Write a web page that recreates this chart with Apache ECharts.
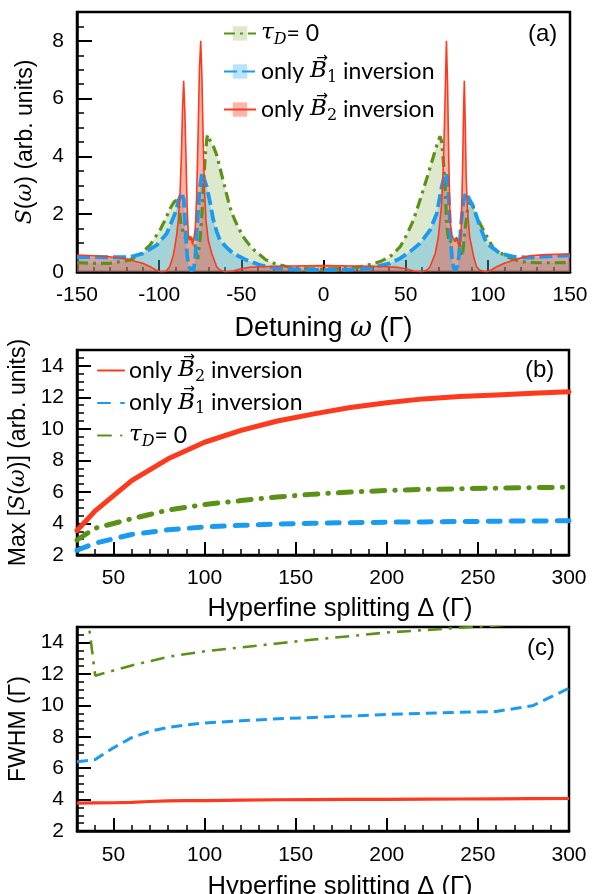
<!DOCTYPE html>
<html><head><meta charset="utf-8">
<script src="https://cdn.jsdelivr.net/npm/echarts@6/dist/echarts.min.js"></script>
<style>html,body{margin:0;padding:0;background:#fff}#c{width:592px;height:894px}</style>
</head><body><div id="c"></div>
<script>
// ---------- Panel (a): spectra S(omega) ----------
const wTau = [-150,-140,-130,-118,-112,-105.6,-99.5,-96,-93.4,-91,-89.5,-88,-86.5,-84,-81,-78.5,-76.5,-75,-74,-73,-72,-71,-70.5,-69.5,-67,-65,-63,-61,-59,-57,-54,-51,-48,-45,-42,-38.6,-35,-30,-22,-10,0,10,22,30,34.4,40.5,46.6,50.6,54.7,58.7,62.8,66.8,69,70.9,72,73,74,75,76.5,78,80,82,84.5,86,87.5,89,90.5,93.2,97.3,103.4,111.5,119.6,130,140,150];
const sTau = [0.32,0.3,0.3,0.41,0.59,0.93,1.45,1.85,2.19,2.42,2.48,2.25,1.6,1.15,1.2,1.0,0.45,1.2,2.0,3.0,4.0,4.6,4.75,4.6,4.35,4.05,3.6,3.15,2.7,2.25,1.8,1.45,1.15,0.93,0.75,0.59,0.42,0.3,0.18,0.12,0.1,0.12,0.18,0.28,0.36,0.53,0.87,1.28,1.79,2.48,3.23,3.98,4.4,4.7,4.5,3.8,3.0,1.6,1.0,1.1,1.2,1.1,0.55,1.4,2.1,2.42,2.35,1.9,1.45,0.82,0.53,0.36,0.32,0.32,0.33];

const wB1 = [-150,-140,-130,-118,-110,-101.5,-95.4,-90.4,-88,-86.3,-85,-84,-83,-82,-80.5,-79,-78,-77,-75.5,-73.8,-72.5,-71,-69,-67,-65,-63,-59,-54.9,-50,-46.7,-38.6,-28.5,-15,0,15,28,34.4,40.5,46.6,52.6,58.7,64.8,68.9,71.9,73.5,74.5,75.5,76.5,77.5,78.5,80,81.5,82.5,83.5,85,86.5,88,91.2,95.3,99.3,107.4,115.5,125.7,140,150];
const sB1 = [0.52,0.52,0.51,0.51,0.64,0.93,1.33,2.02,2.5,2.75,2.5,1.5,0.6,0.2,0.05,0.1,0.5,1.5,2.8,3.46,3.2,2.94,2.4,1.79,1.4,1.1,0.85,0.64,0.5,0.41,0.24,0.13,0.08,0.07,0.08,0.13,0.22,0.3,0.47,0.7,0.99,1.45,2.02,2.94,3.3,3.42,3.2,2.2,1.0,0.3,0.05,0.2,0.6,1.5,2.4,2.75,2.6,2.25,1.56,0.99,0.64,0.53,0.5,0.55,0.58];

const wB2 = [-150,-140,-130,-120,-110,-105,-102,-99,-96,-93.6,-91.5,-90.5,-89.3,-88.4,-87.3,-86.5,-85.8,-85.1,-84.4,-83.7,-83,-82.3,-81.5,-80.5,-79.7,-78.8,-78,-77.2,-76.3,-75.5,-74.7,-74,-73.2,-72.5,-71.5,-70.1,-68,-65,-63,-60,-55,-50,-45,-39,-30,-19,0,19,30,39,45,50,55,60,63,64.8,68,69.9,71.9,73,74,74.8,75.5,76.2,77,78,79,80,81,82,83,83.8,84.6,85.2,85.7,86.3,86.8,87.5,88.1,89,90.2,91.5,93.2,95,97.3,100,102,105.4,110,115.5,120,125.7,135,150];
const sB2 = [0.59,0.56,0.53,0.45,0.3,0.17,0.07,0.01,0.02,0.18,0.55,0.87,1.3,1.79,2.71,4.0,5.6,6.62,5.6,4.0,2.3,1.3,1.1,1.2,0.95,1.2,1.5,2.6,4.8,7.0,8.0,6.8,4.5,2.94,1.79,1.1,0.64,0.18,0.07,0.01,0.03,0.11,0.16,0.18,0.2,0.21,0.22,0.21,0.2,0.18,0.16,0.11,0.03,0.01,0.07,0.18,0.64,1.22,2.37,3.8,6.0,8.0,6.5,4.0,1.8,1.3,1.16,1.05,1.16,1.0,0.87,1.5,3.5,5.5,6.62,5.0,3.3,2.3,1.79,1.2,0.87,0.5,0.18,0.07,0.02,0.01,0.07,0.18,0.3,0.41,0.48,0.56,0.6,0.62];

// ---------- Panel (b): Max[S(omega)] vs hyperfine splitting ----------
const deltaB = [30,40,60,80,100,120,140,160,180,200,220,240,260,280,300];
const maxB2  = [3.55,4.8,6.72,8.1,9.15,9.9,10.5,10.95,11.35,11.65,11.9,12.05,12.15,12.25,12.35];
const maxB1  = [2.3,2.75,3.3,3.6,3.78,3.88,3.96,4.01,4.05,4.08,4.1,4.12,4.14,4.16,4.17];
const maxTau = [2.95,3.7,4.3,4.85,5.2,5.45,5.68,5.86,5.99,6.09,6.16,6.2,6.24,6.27,6.3];

// ---------- Panel (c): FWHM vs hyperfine splitting ----------
const deltaC  = [30,40,50,60,70,80,90,100,120,140,160,180,200,220,240,260,280,300];
const fwhmB2  = [3.78,3.79,3.8,3.82,3.88,3.92,3.93,3.94,3.97,3.99,4.0,4.01,4.02,4.03,4.04,4.05,4.06,4.07];
const fwhmB1  = [6.42,6.55,7.3,7.95,8.35,8.6,8.76,8.88,9.02,9.15,9.24,9.33,9.43,9.5,9.56,9.62,9.98,11.1];
const deltaCTau = [30,35,40,60,80,100,120,140,160,180,200,220,240,260,280,300];
const fwhmTau   = [20,16.5,11.9,12.55,13.1,13.45,13.7,13.95,14.2,14.42,14.65,14.8,14.95,15.1,15.25,15.4];

// ---------- ticks ----------
const yMajorA = [0,2,4,6,8];
const yMinorA = [0.5,1,1.5,2.5,3,3.5,4.5,5,5.5,6.5,7,7.5,8.5];
const xMajorBC = [50,100,150,200,250,300];
const xMinorBC = [40,60,70,80,90,110,120,130,140,160,170,180,190,210,220,230,240,260,270,280,290];
const yMajorBC = [2,4,6,8,10,12,14];
const yMinorBC = [2.5,3,3.5,4.5,5,5.5,6.5,7,7.5,8.5,9,9.5,10.5,11,11.5,12.5,13,13.5,14.5];

const legendText = {
  aTau: '{m|τ}{ms|D}{t|= 0}',
  aB1: '{t|only }{m|B}{s|1}{t| inversion}',
  aB2: '{t|only }{m|B}{s|2}{t| inversion}',
  bB2: '{t|only }{m|B}{s|2}{t| inversion}',
  bB1: '{t|only }{m|B}{s|1}{t| inversion}',
  bTau: '{m|τ}{ms|D}{t|= 0}'
};

const G = '#5a9218', B = '#1a9bf0', R = '#fd3a1e';
const GF = 'rgba(112,165,40,0.24)', BF = 'rgba(40,165,240,0.32)', RF = 'rgba(250,60,35,0.38)';
const FONT = 'Liberation Sans';
const zip = (xs, ys) => xs.map((x, i) => [x, ys[i]]);

const nameStyleA = {fontFamily: FONT, fontSize: 27, color: '#000',
  rich: {i: {fontFamily: 'DejaVu Serif', fontStyle: 'italic', fontSize: 27, color: '#000'}}};
const nameStyleBC = {fontFamily: FONT, fontSize: 25.5, color: '#000', padding: [0, 0, 0, 34]};
const yNameStyle = {fontFamily: FONT, fontSize: 23, color: '#000',
  rich: {i: {fontFamily: 'DejaVu Serif', fontStyle: 'italic', fontSize: 22, color: '#000'}}};
const labelStyle = {show: true, fontFamily: FONT, fontSize: 21, color: '#000', margin: 13};
const lineAx = {show: true, onZero: false, lineStyle: {color: '#000', width: 2.5}};

function mainX(grid, min, max, extra) {
  return Object.assign({type: 'value', gridIndex: grid, min: min, max: max, position: 'bottom',
    axisLine: lineAx, splitLine: {show: false}, nameLocation: 'middle'}, extra);
}
function mainY(grid, min, max, extra) {
  return Object.assign({type: 'value', gridIndex: grid, min: min, max: max, position: 'left',
    axisLine: lineAx, splitLine: {show: false}, nameLocation: 'middle', nameTextStyle: yNameStyle}, extra);
}
function minorAxis(grid, min, max, vals, len, pos) {
  return {type: 'value', gridIndex: grid, min: min, max: max, position: pos,
    axisLine: {show: false, onZero: false}, axisLabel: {show: false}, splitLine: {show: false},
    axisTick: {show: true, inside: true, length: len, customValues: vals, lineStyle: {color: '#000', width: 1.5}}};
}
const tickMajor = (len, vals) => {
  const t = {show: true, inside: true, length: len, lineStyle: {color: '#000', width: 2}};
  if (vals) t.customValues = vals;
  return t;
};

const xAxis = [
  mainX(0, -150, 150, {interval: 50, axisTick: tickMajor(12),
    minorTick: {show: true, splitNumber: 5, length: 5, lineStyle: {color: '#000', width: 1.5}},
    axisLabel: labelStyle, name: 'Detuning {i|ω} (Γ)', nameGap: 43, nameTextStyle: nameStyleA}),
  mainX(1, 30, 300, {axisTick: tickMajor(13, xMajorBC),
    axisLabel: Object.assign({customValues: xMajorBC}, labelStyle), name: 'Hyperfine splitting Δ (Γ)', nameGap: 41, nameTextStyle: nameStyleBC}),
  mainX(2, 30, 300, {axisTick: tickMajor(13, xMajorBC),
    axisLabel: Object.assign({customValues: xMajorBC}, labelStyle, {margin: 14}), name: 'Hyperfine splitting Δ (Γ)', nameGap: 43, nameTextStyle: nameStyleBC}),
  minorAxis(1, 30, 300, xMinorBC, 6, 'bottom'),
  minorAxis(2, 30, 300, xMinorBC, 6, 'bottom')
];
const yAxis = [
  mainY(0, 0, 9, {axisTick: tickMajor(15, yMajorA), axisLabel: Object.assign({customValues: yMajorA}, labelStyle),
    name: '{i|S}({i|ω}) (arb. units)', nameGap: 40}),
  mainY(1, 2, 15, {axisTick: tickMajor(14, yMajorBC), axisLabel: Object.assign({customValues: yMajorBC}, labelStyle),
    name: 'Max [{i|S}({i|ω})] (arb. units)', nameGap: 40}),
  mainY(2, 2, 15, {axisTick: tickMajor(14, yMajorBC), axisLabel: Object.assign({customValues: yMajorBC}, labelStyle),
    name: 'FWHM (Γ)', nameGap: 40}),
  minorAxis(0, 0, 9, yMinorA, 7, 'left'),
  minorAxis(1, 2, 15, yMinorBC, 7, 'left'),
  minorAxis(2, 2, 15, yMinorBC, 7, 'left')
];

function fill(xs, ys, color) {
  return {type: 'line', xAxisIndex: 0, yAxisIndex: 0, data: zip(xs, ys), symbol: 'none', silent: true,
    lineStyle: {width: 0, opacity: 0}, areaStyle: {color: color, opacity: 1}, z: 2};
}
function curve(name, xi, yi, xs, ys, color, width, type, cap) {
  return {type: 'line', name: name, xAxisIndex: xi, yAxisIndex: yi, data: zip(xs, ys), symbol: 'rect',
    showSymbol: false, lineStyle: {color: color, width: width, type: type, cap: cap || 'butt'},
    itemStyle: {color: color}, z: 3};
}

const series = [
  fill(wTau, sTau, GF),
  fill(wB1, sB1, BF),
  fill(wB2, sB2, RF),
  curve('aTau', 0, 0, wTau, sTau, G, 3.2, [11, 5, 3, 5]),
  curve('aB1', 0, 0, wB1, sB1, B, 3.8, [13, 5]),
  curve('aB2', 0, 0, wB2, sB2, R, 1.6, 'solid'),
  curve('bB2', 1, 1, deltaB, maxB2, R, 5, 'solid', 'round'),
  curve('bB1', 1, 1, deltaB, maxB1, B, 5, [12, 11], 'round'),
  curve('bTau', 1, 1, deltaB, maxTau, G, 5, [13, 10, 0.5, 10], 'round'),
  curve('cB2', 2, 2, deltaC, fwhmB2, R, 3.2, 'solid'),
  curve('cB1', 2, 2, deltaC, fwhmB1, B, 3, [11, 6]),
  curve('cTau', 2, 2, deltaCTau, fwhmTau, G, 2.6, [14, 7, 3, 7])
];

const legendRich = {
  t: {fontFamily: 'Lato', fontSize: 23, color: '#000', lineHeight: 28},
  m: {fontFamily: 'DejaVu Serif', fontStyle: 'italic', fontSize: 23, color: '#000', lineHeight: 28},
  s: {fontFamily: 'DejaVu Serif', fontSize: 16, color: '#000', lineHeight: 12, verticalAlign: 'bottom'},
  ms: {fontFamily: 'DejaVu Serif', fontStyle: 'italic', fontSize: 16, color: '#000', lineHeight: 12, verticalAlign: 'bottom'}
};
const fmt = (n) => legendText[n];
const hidden = {color: 'rgba(0,0,0,0)', borderWidth: 0, opacity: 0};

// small vector arrows over the B symbols in the legends
const arrowStyle = {text: '\u2192', font: '14px "DejaVu Sans"', fill: '#000', align: 'center', verticalAlign: 'middle'};
const arrows = [[322, 58], [322, 96], [189, 357], [189, 389]].map(p => ({
  type: 'text', x: p[0], y: p[1], z: 100, silent: true, style: Object.assign({}, arrowStyle)}));

const option = {
  animation: false,
  backgroundColor: '#fff',
  textStyle: {fontFamily: FONT},
  grid: [
    {left: 77, top: 12, width: 493, height: 260, show: true, borderColor: '#000', borderWidth: 2.5, backgroundColor: 'transparent', outerBoundsMode: 'none'},
    {left: 77, top: 350, width: 492, height: 205, show: true, borderColor: '#000', borderWidth: 2.5, backgroundColor: 'transparent', outerBoundsMode: 'none'},
    {left: 77, top: 627, width: 492, height: 204, show: true, borderColor: '#000', borderWidth: 2.5, backgroundColor: 'transparent', outerBoundsMode: 'none'}
  ],
  title: [
    {text: '(a)', left: 528, top: 22},
    {text: '(b)', left: 525, top: 358},
    {text: '(c)', left: 527, top: 636}
  ].map(t => Object.assign(t, {padding: 0, textStyle: {fontFamily: FONT, fontSize: 24, fontWeight: 'normal', color: '#000'}})),
  legend: [
    {orient: 'vertical', align: 'left', left: 223, top: 22, padding: 0, itemWidth: 32, itemHeight: 18, itemGap: 12.5,
     selectedMode: false, formatter: fmt, textStyle: {color: '#000', rich: legendRich},
     data: [{name: 'aTau', itemStyle: {color: GF, borderWidth: 0}},
            {name: 'aB1', itemStyle: {color: BF, borderWidth: 0}},
            {name: 'aB2', itemStyle: {color: RF, borderWidth: 0}}]},
    {orient: 'vertical', align: 'left', left: 97, top: 359, padding: 0, itemWidth: 26, itemHeight: 18, itemGap: 7,
     selectedMode: false, formatter: fmt, textStyle: {color: '#000', rich: legendRich},
     data: [{name: 'bB2', itemStyle: hidden}, {name: 'bB1', itemStyle: hidden}, {name: 'bTau', itemStyle: hidden}]}
  ],
  graphic: arrows,
  xAxis: xAxis,
  yAxis: yAxis,
  series: series
};

const chart = echarts.init(document.getElementById('c'), null, {renderer: 'canvas', width: 592, height: 894});
chart.setOption(option);
</script>
</body></html>
